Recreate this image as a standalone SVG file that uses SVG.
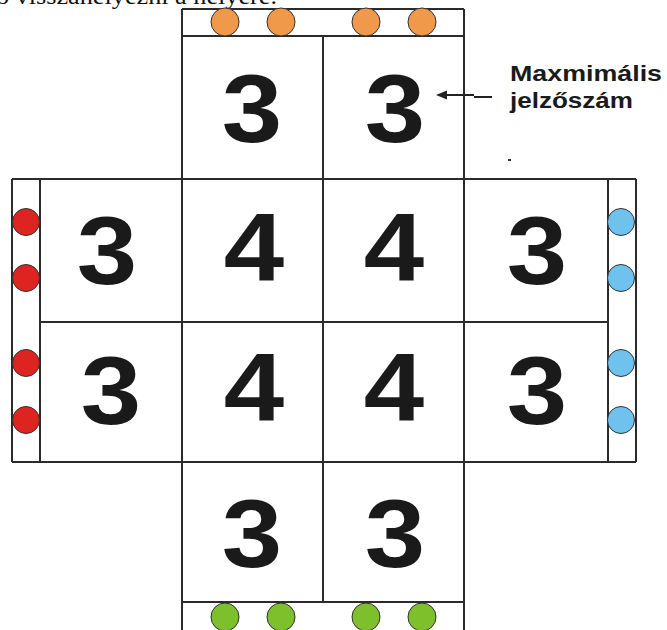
<svg xmlns="http://www.w3.org/2000/svg" width="667" height="630" viewBox="0 0 667 630">
<style>
.ln{stroke:#2b2b2b;stroke-width:2;fill:none}
.d{font-family:"Liberation Sans",Arial,sans-serif;font-weight:bold;font-size:97px;fill:#1a1a1a;text-anchor:middle}
.lbl{font-family:"Liberation Sans",Arial,sans-serif;font-weight:bold;font-size:22px;fill:#1a1a1a}
.c{stroke:#333;stroke-width:1}
.or{fill:#F0994A}.rd{fill:#DD2420}.bl{fill:#70C2EE}.gr{fill:#7EBF2C}
</style>
<rect width="667" height="630" fill="#fff"/>
<text x="-4" y="4" font-family="'Liberation Serif','Times New Roman',serif" font-size="24" fill="#111" textLength="281" lengthAdjust="spacingAndGlyphs">o visszahelyezni a helyére.</text>
<g id="grid">
<path class="ln" d="M182,9H464M182,36H464M182,602H464M12,179H636M12,462H636M40,322H608M182,9V630M464,9V630M323,36V602M12,179V462M40,179V462M608,179V462M636,179V462"/>
</g>
<g id="cells">
<g id="c-top-l"><text class="d" transform="translate(252,142) scale(1.12,1)">3</text></g>
<g id="c-top-r"><text class="d" transform="translate(395,142) scale(1.12,1)">3</text></g>
<g id="c-r2-1"><text class="d" transform="translate(107,284) scale(1.12,1)">3</text></g>
<g id="c-r2-2"><text class="d" transform="translate(254,281) scale(1.12,1)">4</text></g>
<g id="c-r2-3"><text class="d" transform="translate(394,281) scale(1.12,1)">4</text></g>
<g id="c-r2-4"><text class="d" transform="translate(537,284) scale(1.12,1)">3</text></g>
<g id="c-r3-1"><text class="d" transform="translate(111,424) scale(1.12,1)">3</text></g>
<g id="c-r3-2"><text class="d" transform="translate(254,421) scale(1.12,1)">4</text></g>
<g id="c-r3-3"><text class="d" transform="translate(394,421) scale(1.12,1)">4</text></g>
<g id="c-r3-4"><text class="d" transform="translate(537,424) scale(1.12,1)">3</text></g>
<g id="c-bot-l"><text class="d" transform="translate(252,567) scale(1.12,1)">3</text></g>
<g id="c-bot-r"><text class="d" transform="translate(395,567) scale(1.12,1)">3</text></g>
</g>
<g id="lights-top">
<circle class="c or" cx="225" cy="22" r="14"/><circle class="c or" cx="281" cy="22" r="14"/>
<circle class="c or" cx="366" cy="22" r="14"/><circle class="c or" cx="422" cy="22" r="14"/>
</g>
<g id="lights-bottom">
<circle class="c gr" cx="225" cy="617" r="14"/><circle class="c gr" cx="281" cy="617" r="14"/>
<circle class="c gr" cx="366" cy="617" r="14"/><circle class="c gr" cx="422" cy="617" r="14"/>
</g>
<g id="lights-left">
<circle class="c rd" cx="26" cy="222" r="13.5"/><circle class="c rd" cx="26" cy="278" r="13.5"/>
<circle class="c rd" cx="26" cy="363" r="13.5"/><circle class="c rd" cx="26" cy="420" r="13.5"/>
</g>
<g id="lights-right">
<circle class="c bl" cx="621" cy="222" r="13.5"/><circle class="c bl" cx="621" cy="278" r="13.5"/>
<circle class="c bl" cx="621" cy="363" r="13.5"/><circle class="c bl" cx="621" cy="420" r="13.5"/>
</g>
<g id="label">
<text class="lbl" x="510" y="81" textLength="152" lengthAdjust="spacingAndGlyphs">Maxmimális</text>
<text class="lbl" x="510" y="108" textLength="123" lengthAdjust="spacingAndGlyphs">jelzőszám</text>
<rect x="508" y="159" width="3" height="2" fill="#333"/>
</g>
<g id="connectors">
<path d="M492,97H474M474,95H446" stroke="#222" stroke-width="2" fill="none"/>
<polygon points="436,95 447,90.5 447,99.5" fill="#222"/>
</g>
</svg>
